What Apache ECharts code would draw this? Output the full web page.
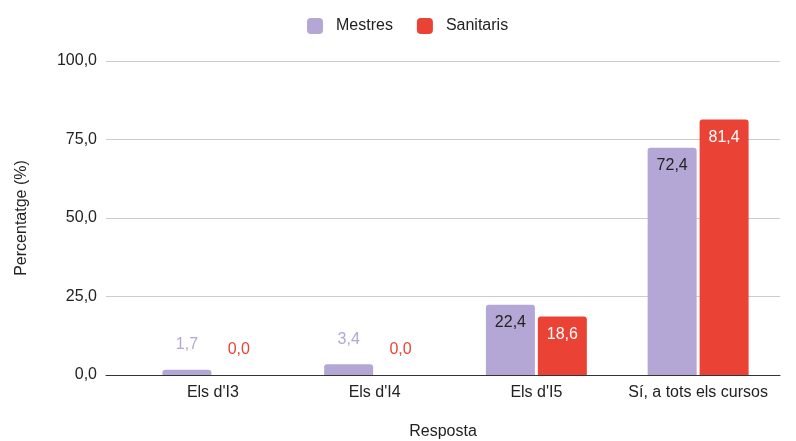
<!DOCTYPE html>
<html lang="ca" style="height: 100%;width: 100%">
<head>
    <meta charset="utf-8">
</head>
<body style="height: 100%;width: 100%; margin: 0; background: #fff">
<div id="container" style="height: 441px;width: 796px;"></div>
<script type="text/javascript" src="https://cdn.jsdelivr.net/npm/echarts@6/dist/echarts.min.js"></script>
<script type="text/javascript">
    // dades
    var categories = ["Els d'I3", "Els d'I4", "Els d'I5", "Sí, a tots els cursos"];
    var mestres = [1.7, 3.4, 22.4, 72.4];
    var sanitaris = [0.0, 0.0, 18.6, 81.4];
    var yTicks = [0, 25, 50, 75, 100];

    var colMestres = '#b4a7d6';
    var colSanitaris = '#ea4335';
    var font = '"Liberation Sans", Arial, sans-serif';

    function fmt(v) {
        return Number(v).toFixed(1).replace('.', ',');
    }

    // etiquetes: fora de la barra si es petita, dins si es gran
    function buildData(values, color, insideColor) {
        return values.map(function (v) {
            var small = v < 10;
            return {
                value: v,
                label: {
                    position: small ? 'top' : 'insideTop',
                    distance: small ? 17 : 10,
                    color: small ? color : insideColor
                }
            };
        });
    }

    var myChart = echarts.init(document.getElementById('container'), null, {renderer: 'canvas'});

    var option = {
        animation: false,
        textStyle: {fontFamily: font},
        legend: {
            top: 18,
            left: 307,
            padding: 0,
            icon: 'roundRect',
            itemWidth: 16,
            itemHeight: 16,
            itemGap: 24,
            textStyle: {fontSize: 16, color: '#222', fontFamily: font, padding: [2, 0, 0, 8]},
            data: ['Mestres', 'Sanitaris']
        },
        grid: [
            {left: 106, right: 16, top: 61, bottom: 66, containLabel: false, outerBoundsMode: 'none'},
            {left: 132, right: 17, top: 61, bottom: 66, containLabel: false, outerBoundsMode: 'none'}
        ],
        xAxis: [
            {
                gridIndex: 0,
                type: 'category',
                data: [''],
                name: 'Resposta',
                nameLocation: 'middle',
                nameGap: 49,
                nameTextStyle: {fontSize: 16, color: '#222', fontFamily: font},
                axisLine: {show: true, lineStyle: {color: '#333', width: 1}},
                axisTick: {show: false},
                axisLabel: {show: false},
                splitLine: {show: false},
                z: 5
            },
            {
                gridIndex: 1,
                type: 'category',
                data: categories,
                axisLine: {show: false},
                axisTick: {show: false},
                axisLabel: {fontSize: 16, color: '#222', margin: 10, interval: 0, fontFamily: font},
                splitLine: {show: false}
            }
        ],
        yAxis: [
            {
                gridIndex: 0,
                type: 'value',
                min: yTicks[0],
                max: yTicks[yTicks.length - 1],
                interval: 25,
                name: 'Percentatge (%)',
                nameLocation: 'middle',
                nameGap: 76,
                nameTextStyle: {fontSize: 16, color: '#222', fontFamily: font},
                axisLine: {show: false},
                axisTick: {show: false},
                axisLabel: {fontSize: 16, color: '#222', margin: 9, formatter: fmt, fontFamily: font},
                splitLine: {show: true, lineStyle: {color: '#cccccc', width: 1}}
            },
            {
                gridIndex: 1,
                type: 'value',
                min: yTicks[0],
                max: yTicks[yTicks.length - 1],
                show: false,
                splitLine: {show: false}
            }
        ],
        series: [
            {
                name: 'Mestres',
                type: 'bar',
                xAxisIndex: 1,
                yAxisIndex: 1,
                barWidth: 49,
                barGap: '6%',
                itemStyle: {color: colMestres, borderRadius: [3, 3, 0, 0]},
                label: {show: true, fontSize: 16, formatter: function (p) { return fmt(p.value); }, fontFamily: font},
                data: buildData(mestres, colMestres, '#222')
            },
            {
                name: 'Sanitaris',
                type: 'bar',
                xAxisIndex: 1,
                yAxisIndex: 1,
                barWidth: 49,
                barGap: '6%',
                itemStyle: {color: colSanitaris, borderRadius: [3, 3, 0, 0]},
                label: {show: true, fontSize: 16, formatter: function (p) { return fmt(p.value); }, fontFamily: font},
                data: buildData(sanitaris, colSanitaris, '#fff')
            }
        ]
    };
    myChart.setOption(option);
</script>
</body>
</html>
